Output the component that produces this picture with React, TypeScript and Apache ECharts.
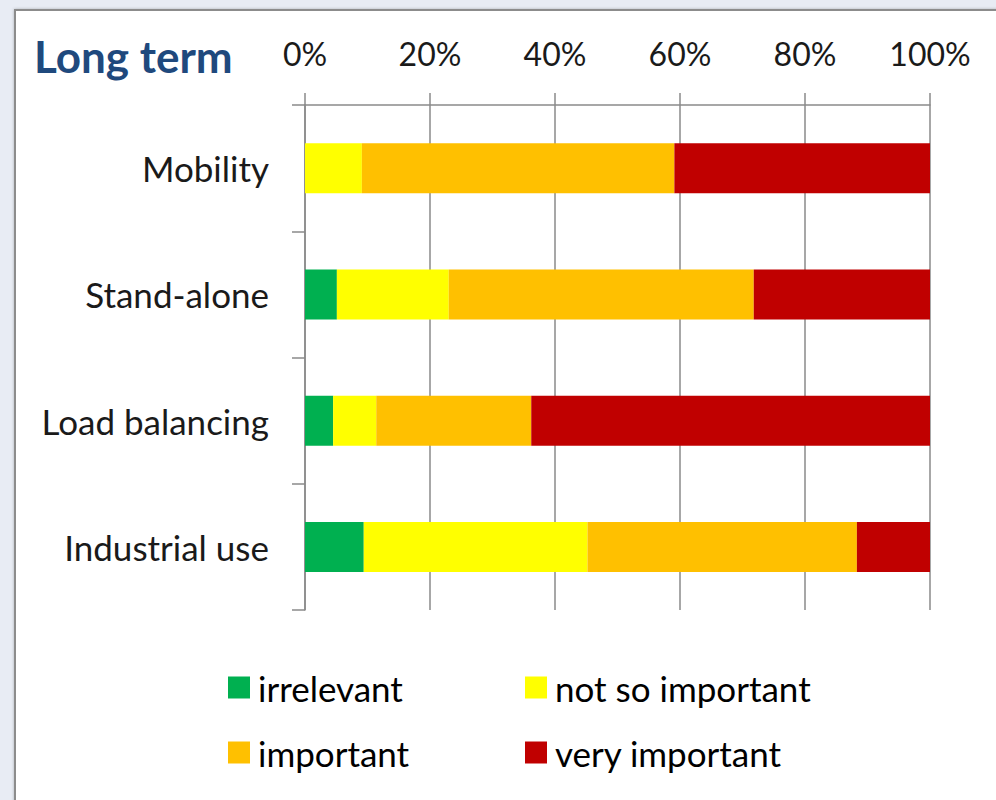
import React, { useEffect, useRef } from "react";
import * as echarts from "echarts";

const categories = ["Mobility", "Stand-alone", "Load balancing", "Industrial use"];
const seriesNames = ["irrelevant", "not so important", "important", "very important"];
const irrelevant = [0, 5.1, 4.5, 9.4];
const notSoImportant = [9.1, 17.9, 6.9, 35.8];
const important = [50.0, 48.8, 24.8, 43.1];
const veryImportant = [40.9, 28.2, 63.8, 11.7];
const seriesColors = ["#00b050", "#ffff00", "#ffc000", "#c00000"];

const FONT = "Lato, 'Open Sans', sans-serif";

export default function App() {
  const ref = useRef<HTMLDivElement>(null);
  useEffect(() => {
    if (!ref.current) return;
    const chart = echarts.init(ref.current, undefined, { renderer: "svg" });
    const values = [irrelevant, notSoImportant, important, veryImportant];
    const legendPos = [
      { left: 228, top: 670 },
      { left: 525, top: 670 },
      { left: 228, top: 735 },
      { left: 525, top: 735 },
    ];
    chart.setOption({
      animation: false,
      backgroundColor: "#e8ecf4",
      graphic: [
        {
          type: "rect",
          z: -10,
          shape: { x: 15, y: 10, width: 1000, height: 820 },
          style: {
            fill: "#ffffff",
            stroke: "#8c8c8c",
            lineWidth: 2,
            shadowBlur: 3,
            shadowColor: "rgba(0,0,0,0.25)",
          },
        },
      ],
      title: {
        text: "Long term",
        left: 29,
        top: 29,
        textStyle: { fontFamily: FONT, fontSize: 44, fontWeight: "bold", color: "#1f497d" },
      },
      legend: seriesNames.map((n, i) => ({
        data: [n],
        left: legendPos[i].left,
        top: legendPos[i].top,
        itemWidth: 22,
        itemHeight: 22,
        icon: "rect",
        padding: 0,
        selectedMode: false,
        textStyle: { fontFamily: FONT, fontSize: 35, color: "#000", padding: [0, 0, 0, 3] },
      })),
      grid: { left: 305, right: 66, top: 105, bottom: 190 },
      xAxis: {
        type: "value",
        position: "top",
        min: 0,
        max: 100,
        interval: 20,
        axisLine: { show: true, lineStyle: { color: "#8a8a8a", width: 1.5 } },
        axisTick: { show: true, length: 12, inside: false, lineStyle: { color: "#8a8a8a", width: 1.5 } },
        axisLabel: {
          formatter: "{value}%",
          fontFamily: FONT,
          fontSize: 32,
          color: "#1a1a1a",
          margin: 36,
        },
        splitLine: { show: true, lineStyle: { color: "#8a8a8a", width: 1.5 } },
      },
      yAxis: {
        type: "category",
        inverse: true,
        data: categories,
        axisLine: { show: true, lineStyle: { color: "#8a8a8a", width: 1.5 } },
        axisTick: { show: true, length: 13, interval: 0, lineStyle: { color: "#8a8a8a", width: 1.5 } },
        axisLabel: { fontFamily: FONT, fontSize: 35, color: "#1a1a1a", margin: 36 },
        splitLine: { show: false },
      },
      series: seriesNames.map((n, i) => ({
        name: n,
        type: "bar",
        stack: "total",
        barWidth: 50,
        data: values[i],
        itemStyle: { color: seriesColors[i] },
      })),
    });
    return () => chart.dispose();
  }, []);
  return (
    <div style={{ position: "absolute", left: 0, top: 0, width: 996, height: 800, overflow: "hidden" }}>
      <div ref={ref} style={{ width: 996, height: 800 }} />
    </div>
  );
}
